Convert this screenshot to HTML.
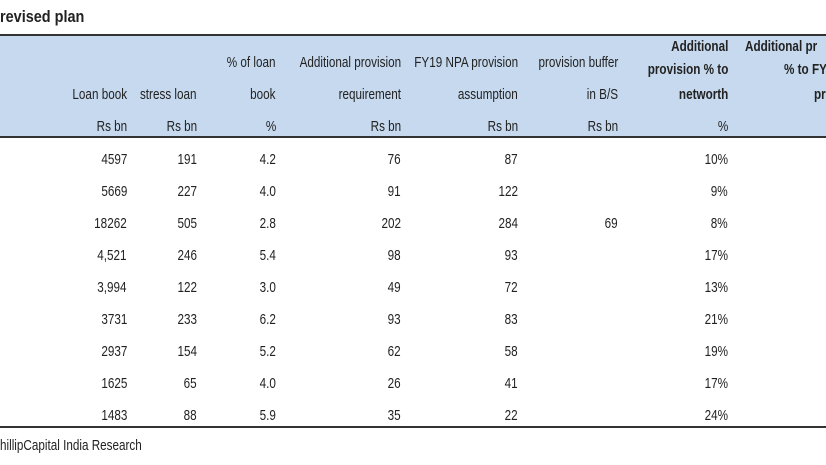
<!DOCTYPE html>
<html><head><meta charset="utf-8"><style>
body{margin:0;width:826px;height:465px;background:#fff;overflow:hidden;position:relative;font-family:"Liberation Sans",sans-serif;color:#222}
.hd{position:absolute;left:0;top:34px;width:826px;height:104px;background:#c6d9ee;border-top:2px solid #333;border-bottom:2px solid #333;box-sizing:border-box}
.t{position:absolute;font-size:15px;white-space:nowrap;transform:scaleX(0.78);transform-origin:right center;line-height:16px;text-align:right}
.l{transform-origin:left center;text-align:left}
.b{font-weight:bold}
.bl{position:absolute;left:0;width:826px;top:426px;height:2px;background:#333}
</style></head><body>
<div style="position:absolute;left:0;top:7px;font-size:17px;font-weight:bold;transform:scaleX(0.85);transform-origin:left;white-space:nowrap">revised plan</div>
<div class="hd"></div>
<div class="bl"></div>
<div class="t l" style="left:0;top:438px">hillipCapital India Research</div>
<div class="t l b" style="left:745px;top:39px">Additional pr</div>
<div class="t l b" style="left:784px;top:62px">% to FY</div>
<div class="t l b" style="left:814px;top:87px">pr</div>
<div id="c"></div>
<script>
var c=document.getElementById('c');
function put(txt,right,cy,cls){var d=document.createElement('div');d.className='t '+(cls||'');d.textContent=txt;d.style.right=(826-right)+'px';d.style.top=(cy-8)+'px';c.appendChild(d);}
var R=[127,197,276,401,518,618,728];
put('% of loan',R[2],63);put('Additional provision',R[3],63);put('FY19 NPA provision',R[4],63);put('provision buffer',R[5],63);
put('Loan book',R[0],95);put('stress loan',R[1],95);put('book',R[2],95);put('requirement',R[3],95);put('assumption',R[4],95);put('in B/S',R[5],95);
['Rs bn','Rs bn','%','Rs bn','Rs bn','Rs bn','%'].forEach(function(s,i){put(s,R[i],127);});
put('Additional',R[6],47,'b');put('provision % to',R[6],70,'b');put('networth',R[6],95,'b');
var rows=[['4597','191','4.2','76','87','','10%'],['5669','227','4.0','91','122','','9%'],['18262','505','2.8','202','284','69','8%'],['4,521','246','5.4','98','93','','17%'],['3,994','122','3.0','49','72','','13%'],['3731','233','6.2','93','83','','21%'],['2937','154','5.2','62','58','','19%'],['1625','65','4.0','26','41','','17%'],['1483','88','5.9','35','22','','24%']];
rows.forEach(function(r,j){r.forEach(function(s,i){if(s)put(s,R[i],160+j*32);});});
</script>
</body></html>
